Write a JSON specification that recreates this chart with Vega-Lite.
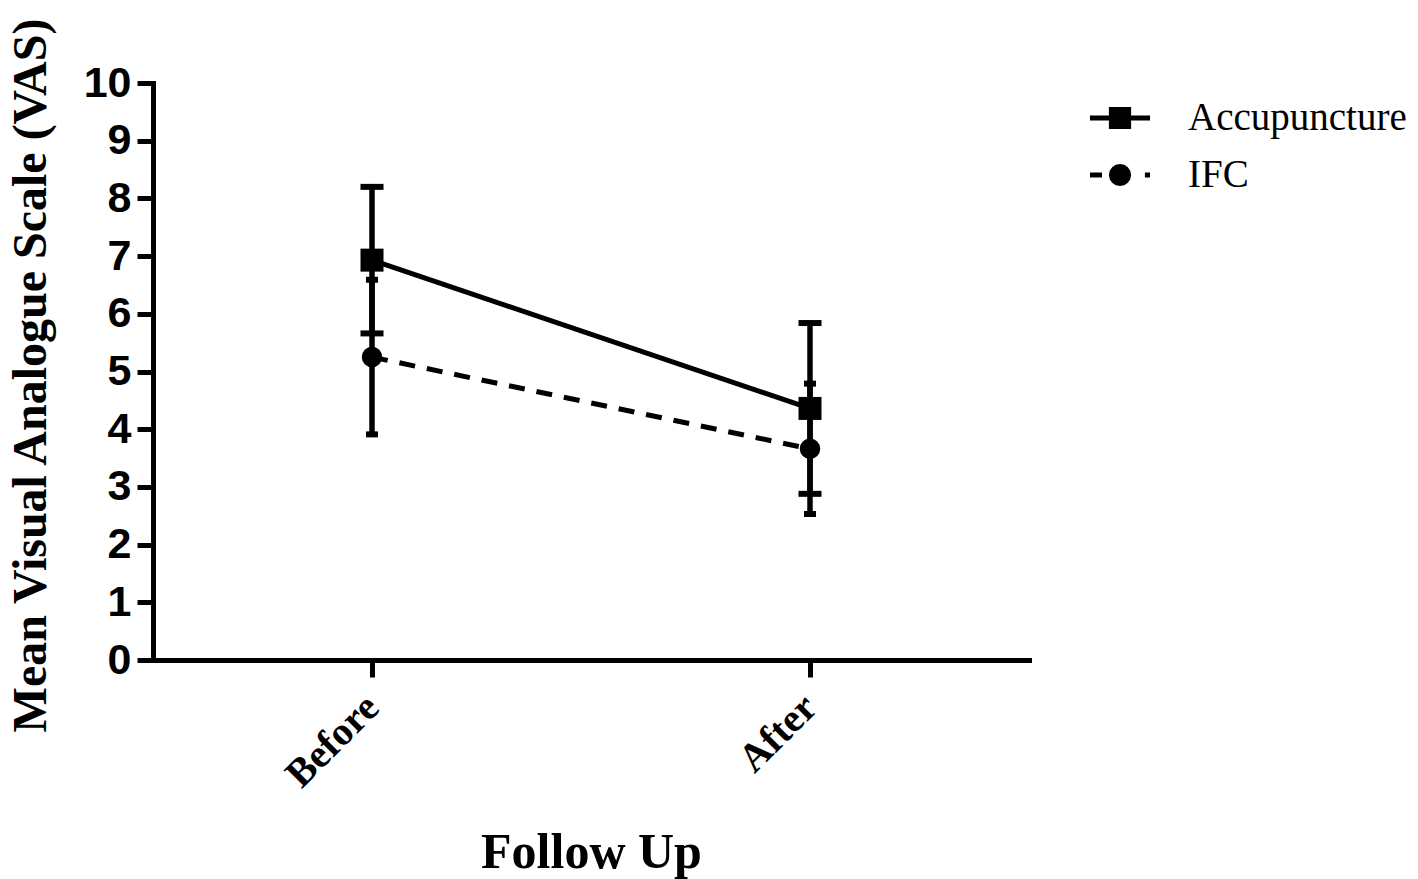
{
  "$schema": "https://vega.github.io/schema/vega-lite/v6.json",
  "width": 876,
  "height": 577,
  "autosize": {"type": "none"},
  "padding": {"left": 153, "top": 83, "right": 389, "bottom": 219},
  "background": "white",
  "config": {
    "view": {"stroke": null},
    "axis": {
      "domainColor": "black", "domainWidth": 5, "domainCap": "square",
      "tickColor": "black", "tickWidth": 5, "tickSize": 16, "grid": false,
      "labelColor": "black", "titleColor": "black"
    },
    "axisY": {
      "labelFont": "Liberation Sans", "labelFontSize": 43, "labelFontWeight": "bold", "labelPadding": 6,
      "titleFont": "Liberation Serif", "titleFontSize": 48, "titleFontWeight": "bold",
      "titleX": -108, "titleY": 292, "titleAngle": -90, "titleAlign": "center", "titleBaseline": "alphabetic"
    },
    "axisX": {
      "labelFont": "Liberation Serif", "labelFontSize": 40, "labelFontWeight": "bold",
      "labelAngle": -45, "labelAlign": "right", "labelBaseline": "middle", "labelPadding": 24,
      "titleFont": "Liberation Serif", "titleFontSize": 50, "titleFontWeight": "bold",
      "titleY": 207, "titleBaseline": "alphabetic", "tickSize": 17
    }
  },
  "data": {
    "values": [
      {"time": "Before", "group": "Accupuncture", "mean": 6.93, "lo": 5.66, "hi": 8.20},
      {"time": "After", "group": "Accupuncture", "mean": 4.36, "lo": 2.88, "hi": 5.84},
      {"time": "Before", "group": "IFC", "mean": 5.25, "lo": 3.91, "hi": 6.59},
      {"time": "After", "group": "IFC", "mean": 3.66, "lo": 2.53, "hi": 4.79}
    ]
  },
  "encoding": {
    "x": {
      "field": "time", "type": "ordinal", "sort": ["Before", "After"],
      "scale": {"type": "point", "padding": 0.5},
      "axis": {"title": "Follow Up"}
    }
  },
  "layer": [
    {
      "transform": [{"filter": "datum.group === 'Accupuncture'"}],
      "mark": {"type": "line", "color": "black", "strokeWidth": 5},
      "encoding": {
        "y": {"field": "mean", "type": "quantitative", "scale": {"domain": [0, 10], "nice": false},
              "axis": {"title": "Mean Visual Analogue Scale (VAS)", "values": [0,1,2,3,4,5,6,7,8,9,10], "format": "d"}}
      }
    },
    {
      "transform": [{"filter": "datum.group === 'IFC'"}],
      "mark": {"type": "line", "color": "black", "strokeWidth": 5, "strokeDash": [16, 12]},
      "encoding": {
        "y": {"field": "mean", "type": "quantitative", "title": "Mean Visual Analogue Scale (VAS)"}
      }
    },
    {
      "mark": {"type": "rule", "color": "black", "strokeWidth": 5.5},
      "encoding": {
        "y": {"field": "lo", "type": "quantitative", "title": "Mean Visual Analogue Scale (VAS)"},
        "y2": {"field": "hi"}
      }
    },
    {
      "transform": [{"filter": "datum.group === 'Accupuncture'"}],
      "mark": {"type": "tick", "color": "black", "thickness": 6, "opacity": 1, "size": 23},
      "encoding": {"y": {"field": "hi", "type": "quantitative", "title": "Mean Visual Analogue Scale (VAS)"}}
    },
    {
      "transform": [{"filter": "datum.group === 'Accupuncture'"}],
      "mark": {"type": "tick", "color": "black", "thickness": 6, "opacity": 1, "size": 23},
      "encoding": {"y": {"field": "lo", "type": "quantitative", "title": "Mean Visual Analogue Scale (VAS)"}}
    },
    {
      "transform": [{"filter": "datum.group === 'IFC'"}],
      "mark": {"type": "tick", "color": "black", "thickness": 6, "opacity": 1, "size": 12},
      "encoding": {"y": {"field": "hi", "type": "quantitative", "title": "Mean Visual Analogue Scale (VAS)"}}
    },
    {
      "transform": [{"filter": "datum.group === 'IFC'"}],
      "mark": {"type": "tick", "color": "black", "thickness": 6, "opacity": 1, "size": 12},
      "encoding": {"y": {"field": "lo", "type": "quantitative", "title": "Mean Visual Analogue Scale (VAS)"}}
    },
    {
      "mark": {"type": "point", "filled": true, "opacity": 1, "color": "black", "size": 1},
      "encoding": {
        "y": {"field": "mean", "type": "quantitative", "title": "Mean Visual Analogue Scale (VAS)"},
        "shape": {
          "field": "group", "type": "nominal",
          "scale": {"domain": ["Accupuncture", "IFC"],
                    "range": ["M-1,-0.085H-0.37V-0.37H0.37V-0.085H1V0.085H0.37V0.37H-0.37V0.085H-1Z",
                              "M-1,-0.085H-0.6V0.085H-1Z M0.37,0L0.342,0.142L0.262,0.262L0.142,0.342L0,0.37L-0.142,0.342L-0.262,0.262L-0.342,0.142L-0.37,0L-0.342,-0.142L-0.262,-0.262L-0.142,-0.342L0,-0.37L0.142,-0.342L0.262,-0.262L0.342,-0.142Z M0.83,-0.085H1V0.085H0.83Z"]},
          "legend": {
            "title": null, "orient": "none", "legendX": 937, "legendY": 5,
            "symbolSize": 3600, "symbolFillColor": "black", "symbolStrokeWidth": 0, "symbolOpacity": 1,
            "labelFont": "Liberation Serif", "labelFontSize": 39, "labelColor": "black", "labelLimit": 0,
            "labelOffset": 38, "rowPadding": 7, "padding": 0
          }
        }
      }
    },
    {
      "transform": [{"filter": "datum.group === 'Accupuncture'"}],
      "mark": {"type": "point", "filled": true, "opacity": 1, "color": "black", "shape": "square", "size": 529},
      "encoding": {"y": {"field": "mean", "type": "quantitative", "title": "Mean Visual Analogue Scale (VAS)"}}
    },
    {
      "transform": [{"filter": "datum.group === 'IFC'"}],
      "mark": {"type": "point", "filled": true, "opacity": 1, "color": "black", "shape": "circle", "size": 420},
      "encoding": {"y": {"field": "mean", "type": "quantitative", "title": "Mean Visual Analogue Scale (VAS)"}}
    }
  ]
}
